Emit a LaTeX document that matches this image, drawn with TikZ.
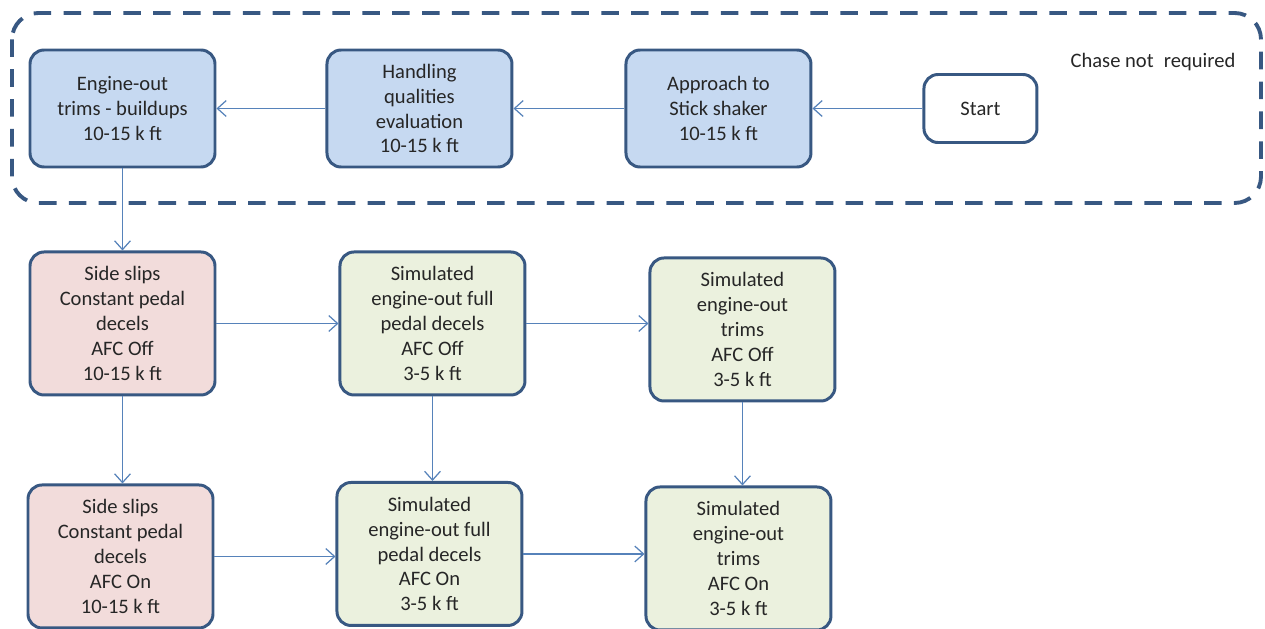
\documentclass[tikz,border=0pt]{standalone}
\usepackage{fontspec}
\setmainfont{Carlito}
\usetikzlibrary{arrows.meta, positioning}
\definecolor{edgeblue}{RGB}{56, 88, 130}
\definecolor{linkblue}{RGB}{86, 130, 186}
\definecolor{phaseblue}{RGB}{198, 217, 241}
\definecolor{slippink}{RGB}{242, 220, 219}
\definecolor{simgreen}{RGB}{235, 241, 222}

\begin{document}
\begin{tikzpicture}[
    every node/.style={font=\fontsize{11.7}{14.2}\selectfont, text=black!85, align=center},
    task/.style={rectangle, rounded corners=8pt, minimum width=3.7cm, minimum height=2.34cm,
                 draw=edgeblue, line width=1.7pt, inner sep=2pt},
    phase/.style={task, fill=phaseblue},
    slip/.style={task, fill=slippink, minimum height=2.86cm},
    sim/.style={task, fill=simgreen, minimum height=2.86cm},
    startbox/.style={task, fill=white, minimum width=2.26cm, minimum height=1.36cm},
    arrow/.style={-{Straight Barb[length=5pt, width=9pt]}, linkblue, line width=0.7pt},
    chasebox/.style={draw=edgeblue, line width=2.2pt, dash pattern=on 10pt off 7pt, rounded corners=15pt}
]
\useasboundingbox (0,0) rectangle (25.3,-12.58);

\draw[chasebox] (0.24,-0.26) rectangle (25.22,-4.06);
\node (chase) at (23.06,-1.24) {Chase not\hspace{0.5em}required};

\node[phase] (eo) at (2.45,-2.17) {Engine-out\\trims - buildups\\10-15 k ft};
\node[phase, right=2.18cm of eo] (hq) {Handling\\qualities\\evaluation\\10-15 k ft};
\node[phase, right=2.22cm of hq] (shaker) {Approach to\\Stick shaker\\10-15 k ft};
\node[startbox, right=2.2cm of shaker] (start) {Start};

\node[slip, below=1.64cm of eo] (slipoff) {Side slips\\Constant pedal\\decels\\AFC Off\\10-15 k ft};
\node[sim, right=2.44cm of slipoff] (fulloff) {Simulated\\engine-out full\\pedal decels\\AFC Off\\3-5 k ft};
\node[sim, right=2.44cm of fulloff, yshift=-0.12cm] (trimoff) {Simulated\\engine-out\\trims\\AFC Off\\3-5 k ft};

\node[slip, below=1.74cm of slipoff, xshift=-0.04cm] (slipon) {Side slips\\Constant pedal\\decels\\AFC On\\10-15 k ft};
\node[sim, right=2.42cm of slipon, yshift=0.05cm] (fullon) {Simulated\\engine-out full\\pedal decels\\AFC On\\3-5 k ft};
\node[sim, right=2.42cm of fullon, yshift=-0.09cm] (trimon) {Simulated\\engine-out\\trims\\AFC On\\3-5 k ft};

\draw[arrow] (start) -- (shaker);
\draw[arrow] (shaker) -- (hq);
\draw[arrow] (hq) -- (eo);
\draw[arrow] (eo) -- (slipoff);
\draw[arrow] (slipoff) -- (fulloff);
\draw[arrow] (fulloff.east) -- (fulloff.east -| trimoff.west);
\draw[arrow] (slipoff.south) -- (slipoff.south |- slipon.north);
\draw[arrow] (fulloff.south) -- (fulloff.south |- fullon.north);
\draw[arrow] (trimoff.south) -- (trimoff.south |- trimon.north);
\draw[arrow] (slipon.east) -- (slipon.east -| fullon.west);
\draw[arrow] (fullon.east) -- (fullon.east -| trimon.west);

\end{tikzpicture}
\end{document}
